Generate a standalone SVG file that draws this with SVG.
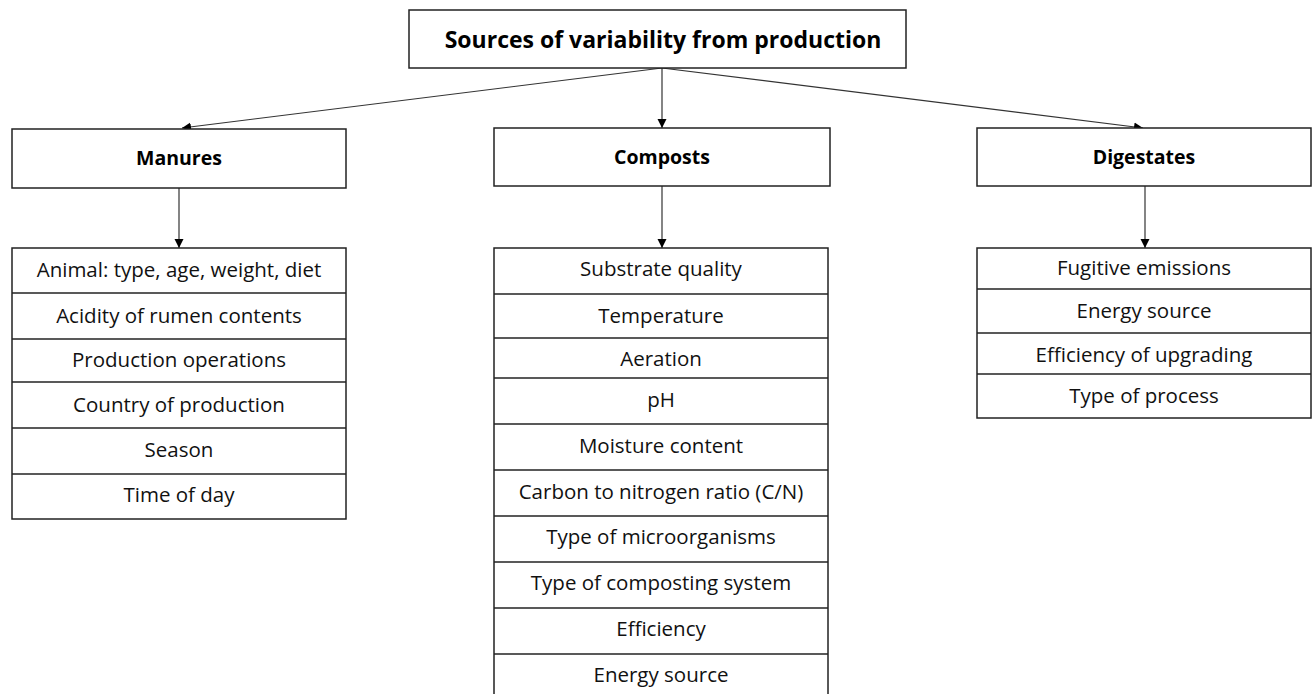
<svg xmlns="http://www.w3.org/2000/svg" width="1312" height="694" viewBox="0 0 1312 694">
<defs>
<style>
.box{fill:#fff;stroke:#222;stroke-width:1.5}
.row{stroke:#222;stroke-width:1.5}
.title{font-family:"Open Sans","Liberation Sans",sans-serif;font-weight:bold;font-size:23px;fill:#000;text-anchor:middle}
.head{font-family:"Open Sans","Liberation Sans",sans-serif;font-weight:bold;font-size:19.5px;fill:#000;text-anchor:middle}
.item{font-family:"Open Sans","Liberation Sans",sans-serif;font-size:20.5px;fill:#111;text-anchor:middle}
.conn{stroke:#333;stroke-width:1.2;fill:none;marker-end:url(#arr)}
</style>
<marker id="arr" viewBox="0 0 10 10" markerUnits="userSpaceOnUse" markerWidth="9" markerHeight="10" refX="10" refY="5" orient="auto">
<path d="M0,0 L10,5 L0,10 z" fill="#000"/>
</marker>
</defs>
<rect width="1312" height="694" fill="#fff"/>
<g id="connectors">
<line class="conn" x1="662" y1="68" x2="182" y2="128"/>
<line class="conn" x1="662" y1="68" x2="662" y2="128"/>
<line class="conn" x1="662" y1="68" x2="1143" y2="128"/>
<line class="conn" x1="179" y1="188" x2="179" y2="248"/>
<line class="conn" x1="662" y1="186" x2="662" y2="248"/>
<line class="conn" x1="1145" y1="186" x2="1145" y2="248"/>
</g>
<g id="root">
<rect class="box" x="409" y="10" width="497" height="58"/>
<text class="title" x="663" y="48">Sources of variability from production</text>
</g>
<g id="manures">
<rect class="box" x="12" y="129" width="334" height="59"/>
<text class="head" x="179" y="165">Manures</text>
</g>
<g id="composts">
<rect class="box" x="494" y="128" width="336" height="58"/>
<text class="head" x="662" y="164">Composts</text>
</g>
<g id="digestates">
<rect class="box" x="977" y="128" width="334" height="58"/>
<text class="head" x="1144" y="164">Digestates</text>
</g>
<g id="manures-list">
<rect class="box" x="12" y="248" width="334" height="271"/>
<line class="row" x1="12" y1="293" x2="346" y2="293"/>
<line class="row" x1="12" y1="339" x2="346" y2="339"/>
<line class="row" x1="12" y1="382" x2="346" y2="382"/>
<line class="row" x1="12" y1="428" x2="346" y2="428"/>
<line class="row" x1="12" y1="474" x2="346" y2="474"/>
<text class="item" x="179" y="277">Animal: type, age, weight, diet</text>
<text class="item" x="179" y="323">Acidity of rumen contents</text>
<text class="item" x="179" y="367">Production operations</text>
<text class="item" x="179" y="412">Country of production</text>
<text class="item" x="179" y="457">Season</text>
<text class="item" x="179" y="502">Time of day</text>
</g>
<g id="composts-list">
<rect class="box" x="494" y="248" width="334" height="460"/>
<line class="row" x1="494" y1="294" x2="828" y2="294"/>
<line class="row" x1="494" y1="338" x2="828" y2="338"/>
<line class="row" x1="494" y1="378" x2="828" y2="378"/>
<line class="row" x1="494" y1="424" x2="828" y2="424"/>
<line class="row" x1="494" y1="470" x2="828" y2="470"/>
<line class="row" x1="494" y1="516" x2="828" y2="516"/>
<line class="row" x1="494" y1="562" x2="828" y2="562"/>
<line class="row" x1="494" y1="608" x2="828" y2="608"/>
<line class="row" x1="494" y1="654" x2="828" y2="654"/>
<text class="item" x="661" y="276">Substrate quality</text>
<text class="item" x="661" y="323">Temperature</text>
<text class="item" x="661" y="366">Aeration</text>
<text class="item" x="661" y="407">pH</text>
<text class="item" x="661" y="453">Moisture content</text>
<text class="item" x="661" y="499">Carbon to nitrogen ratio (C/N)</text>
<text class="item" x="661" y="544">Type of microorganisms</text>
<text class="item" x="661" y="590">Type of composting system</text>
<text class="item" x="661" y="636">Efficiency</text>
<text class="item" x="661" y="682">Energy source</text>
</g>
<g id="digestates-list">
<rect class="box" x="977" y="248" width="334" height="170"/>
<line class="row" x1="977" y1="289" x2="1311" y2="289"/>
<line class="row" x1="977" y1="333" x2="1311" y2="333"/>
<line class="row" x1="977" y1="374" x2="1311" y2="374"/>
<text class="item" x="1144" y="275">Fugitive emissions</text>
<text class="item" x="1144" y="318">Energy source</text>
<text class="item" x="1144" y="362">Efficiency of upgrading</text>
<text class="item" x="1144" y="403">Type of process</text>
</g>
</svg>
